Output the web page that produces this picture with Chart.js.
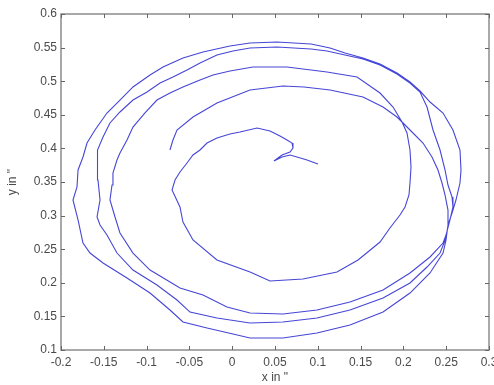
<!DOCTYPE html>
<html><head><meta charset="utf-8">
<script src="https://cdn.jsdelivr.net/npm/chart.js@4.4.0/dist/chart.umd.min.js"></script>
<style>html,body{margin:0;padding:0;background:#fff;}canvas{display:block;}</style>
</head><body>
<canvas id="c" width="494" height="385"></canvas>
<script>
// Trajectory, split into arcs in drawing order (x in ", y in ")
const arc1X = [-0.0727,-0.0692,-0.0645,-0.0458,-0.0178,0.0208,0.0593,0.0839,0.1143,0.1528,0.1762,0.1925,0.1984];
const arc1Y = [0.3976,0.4125,0.4274,0.4467,0.4676,0.4869,0.4929,0.4914,0.4869,0.4765,0.4616,0.4467,0.4393];
const arc2X = [0.2077,0.2229,0.2334,0.2404,0.2451,0.2486,0.2521,0.2521,0.2498];
const arc2Y = [0.4274,0.4080,0.3872,0.3679,0.3485,0.3307,0.3083,0.2860,0.2637];
const arc3X = [0.2463,0.2311,0.2077,0.1762,0.1376,0.0991,0.0593,0.0208,0.0009,-0.0294,-0.0575,-0.0727,-0.0960,-0.1229,-0.1509,-0.1661,-0.1743,-0.1801,-0.1860];
const arc3Y = [0.2443,0.2146,0.1848,0.1565,0.1372,0.1253,0.1179,0.1179,0.1238,0.1327,0.1417,0.1595,0.1848,0.2071,0.2295,0.2443,0.2592,0.2935,0.3232];
const arc4X = [-0.1813,-0.1801,-0.1743,-0.1696,-0.1603,-0.1463,-0.1311,-0.1159,-0.0960,-0.0808,-0.0575,-0.0341,-0.0026,0.0208,0.0523,0.0921,0.1143,0.1318,0.1528,0.1727,0.1925,0.2077,0.2194,0.2311];
const arc4Y = [0.3426,0.3679,0.3872,0.4080,0.4274,0.4527,0.4720,0.4914,0.5092,0.5211,0.5345,0.5435,0.5524,0.5568,0.5583,0.5554,0.5494,0.5420,0.5345,0.5256,0.5122,0.4988,0.4854,0.4690];
const arc5X = [0.2463,0.2579,0.2661,0.2673,0.2661,0.2614,0.2568,0.2521,0.2498];
const arc5Y = [0.4527,0.4274,0.3976,0.3679,0.3485,0.3232,0.3039,0.2860,0.2667];
const arc6X = [0.2428,0.2276,0.2077,0.1762,0.1376,0.0991,0.0593,0.0208,-0.0178,-0.0493,-0.0645,-0.0879,-0.1159,-0.1346,-0.1463,-0.1544,-0.1579];
const arc6Y = [0.2443,0.2235,0.1997,0.1774,0.1595,0.1476,0.1417,0.1402,0.1476,0.1565,0.1744,0.1967,0.2190,0.2443,0.2711,0.2860,0.2979];
const arc7X = [-0.1544,-0.1568,-0.1579,-0.1568,-0.1509,-0.1428,-0.1311,-0.1159,-0.0995,-0.0843,-0.0692,-0.0528,-0.0376,-0.0178,0.0009,0.0208,0.0523,0.0921,0.1107,0.1318,0.1528,0.1727,0.1925,0.2077,0.2194];
const arc7Y = [0.3232,0.3530,0.3783,0.3976,0.4170,0.4378,0.4542,0.4720,0.4839,0.4973,0.5063,0.5167,0.5271,0.5390,0.5449,0.5494,0.5509,0.5479,0.5449,0.5390,0.5330,0.5241,0.5107,0.4973,0.4839];
const arc8X = [0.2276,0.2346,0.2428,0.2486,0.2521,0.2568,0.2579,0.2544,0.2498];
const arc8Y = [0.4616,0.4274,0.3976,0.3679,0.3455,0.3277,0.3128,0.2935,0.2711];
const arc9X = [0.2463,0.2311,0.2077,0.1762,0.1376,0.0991,0.0593,0.0208,-0.0061,-0.0341,-0.0610,-0.0843,-0.0960,-0.1159,-0.1311,-0.1369,-0.1428];
const arc9Y = [0.2592,0.2384,0.2146,0.1893,0.1714,0.1595,0.1536,0.1551,0.1640,0.1818,0.1923,0.2101,0.2190,0.2443,0.2741,0.2979,0.3232];
const arc10X = [-0.1404,-0.1393,-0.1346,-0.1311,-0.1229,-0.1159,-0.1019,-0.0879,-0.0727,-0.0575,-0.0376,-0.0224,-0.0026,0.0243,0.0640,0.1107,0.1458,0.1727,0.1879,0.1984];
const arc10Y = [0.3455,0.3634,0.3827,0.3932,0.4125,0.4318,0.4527,0.4720,0.4824,0.4914,0.5018,0.5092,0.5152,0.5211,0.5211,0.5137,0.5063,0.4824,0.4616,0.4393];
const arc11X = [0.2042,0.2077,0.2089,0.2077,0.2065,0.2019,0.1960,0.1843,0.1727,0.1470,0.1224,0.0827,0.0442,0.0208,-0.0178,-0.0458,-0.0575,-0.0610,-0.0703];
const arc11Y = [0.4229,0.3976,0.3723,0.3485,0.3307,0.3128,0.3009,0.2815,0.2607,0.2339,0.2161,0.2057,0.2027,0.2161,0.2339,0.2637,0.2905,0.3128,0.3381];
const arc12X = [-0.0668,-0.0610,-0.0528,-0.0458,-0.0376,-0.0294,-0.0178,-0.0026,0.0091,0.0290,0.0442,0.0558,0.0640,0.0699,0.0710,0.0675,0.0582,0.0488,0.0582,0.0675,0.0757,0.0874,0.1002];
const arc12Y = [0.3530,0.3649,0.3783,0.3902,0.3976,0.4080,0.4155,0.4214,0.4244,0.4304,0.4259,0.4185,0.4125,0.4080,0.4006,0.3946,0.3902,0.3813,0.3872,0.3902,0.3872,0.3827,0.3768];

const xTicks = [-0.2,-0.15,-0.1,-0.05,0,0.05,0.1,0.15,0.2,0.25,0.3];
const xTickLabels = ['-0.2','-0.15','-0.1','-0.05','0','0.05','0.1','0.15','0.2','0.25','0.3'];
const yTicks = [0.1,0.15,0.2,0.25,0.3,0.35,0.4,0.45,0.5,0.55,0.6];
const yTickLabels = ['0.1','0.15','0.2','0.25','0.3','0.35','0.4','0.45','0.5','0.55','0.6'];
const xTitle = 'x in "';
const yTitle = 'y in "';

const allX = [].concat(arc1X,arc2X,arc3X,arc4X,arc5X,arc6X,arc7X,arc8X,arc9X,arc10X,arc11X,arc12X);
const allY = [].concat(arc1Y,arc2Y,arc3Y,arc4Y,arc5Y,arc6Y,arc7Y,arc8Y,arc9Y,arc10Y,arc11Y,arc12Y);
const points = allX.map((x,i)=>({x:x, y:allY[i]}));

const FONT = "'Liberation Sans', Arial, sans-serif";
const TXT = '#4a4a4a';

const framePlugin = {
  id:'frame',
  afterDraw(chart){
    const {ctx, chartArea:a, scales} = chart;
    const sx = scales.x, sy = scales.y;
    ctx.save();
    ctx.strokeStyle = '#8c8c8c';
    ctx.lineWidth = 1.5;
    ctx.strokeRect(a.left, a.top, a.right-a.left, a.bottom-a.top);
    ctx.lineWidth = 1;
    ctx.strokeStyle = '#666';
    ctx.beginPath();
    xTicks.forEach(v=>{
      const p = Math.round(sx.getPixelForValue(v))+0.5;
      ctx.moveTo(p, a.bottom); ctx.lineTo(p, a.bottom-4);
      ctx.moveTo(p, a.top); ctx.lineTo(p, a.top+4);
    });
    yTicks.forEach(v=>{
      const p = Math.round(sy.getPixelForValue(v))+0.5;
      ctx.moveTo(a.left, p); ctx.lineTo(a.left+4, p);
      ctx.moveTo(a.right, p); ctx.lineTo(a.right-4, p);
    });
    ctx.stroke();
    ctx.restore();
  }
};

new Chart(document.getElementById('c').getContext('2d'), {
  type:'scatter',
  data:{datasets:[{
    data: points, showLine:true, borderColor:'rgb(70,70,215)', borderWidth:1.1,
    pointRadius:0, tension:0, fill:false
  }]},
  options:{
    responsive:false, animation:false, devicePixelRatio:1,
    layout:{padding:{top:14,right:5,left:0,bottom:0}},
    plugins:{legend:{display:false}, tooltip:{enabled:false}},
    scales:{
      x:{
        type:'linear', min:-0.2, max:0.3,
        afterBuildTicks:s=>{ s.ticks = xTicks.map(v=>({value:v})); },
        afterFit:s=>{ s.height = 35; s.paddingLeft = 0; s.paddingRight = 0; },
        grid:{display:false, drawTicks:false}, border:{display:false},
        ticks:{autoSkip:false, maxRotation:0, padding:5, color:TXT, font:{family:FONT,size:12},
               callback:(v,i)=>xTickLabels[i]},
        title:{display:true, text:xTitle, color:TXT, font:{family:FONT,size:12,lineHeight:1}, padding:{top:0,bottom:1}}
      },
      y:{
        type:'linear', min:0.1, max:0.6,
        afterBuildTicks:s=>{ s.ticks = yTicks.map(v=>({value:v})); },
        afterFit:s=>{ s.width = 61; },
        grid:{display:false, drawTicks:false}, border:{display:false},
        ticks:{autoSkip:false, padding:4, color:TXT, font:{family:FONT,size:12},
               callback:(v,i)=>yTickLabels[i]},
        title:{display:true, text:yTitle, color:TXT, font:{family:FONT,size:12,lineHeight:1}, padding:{top:7,bottom:0}}
      }
    }
  },
  plugins:[framePlugin]
});
</script>
</body></html>
